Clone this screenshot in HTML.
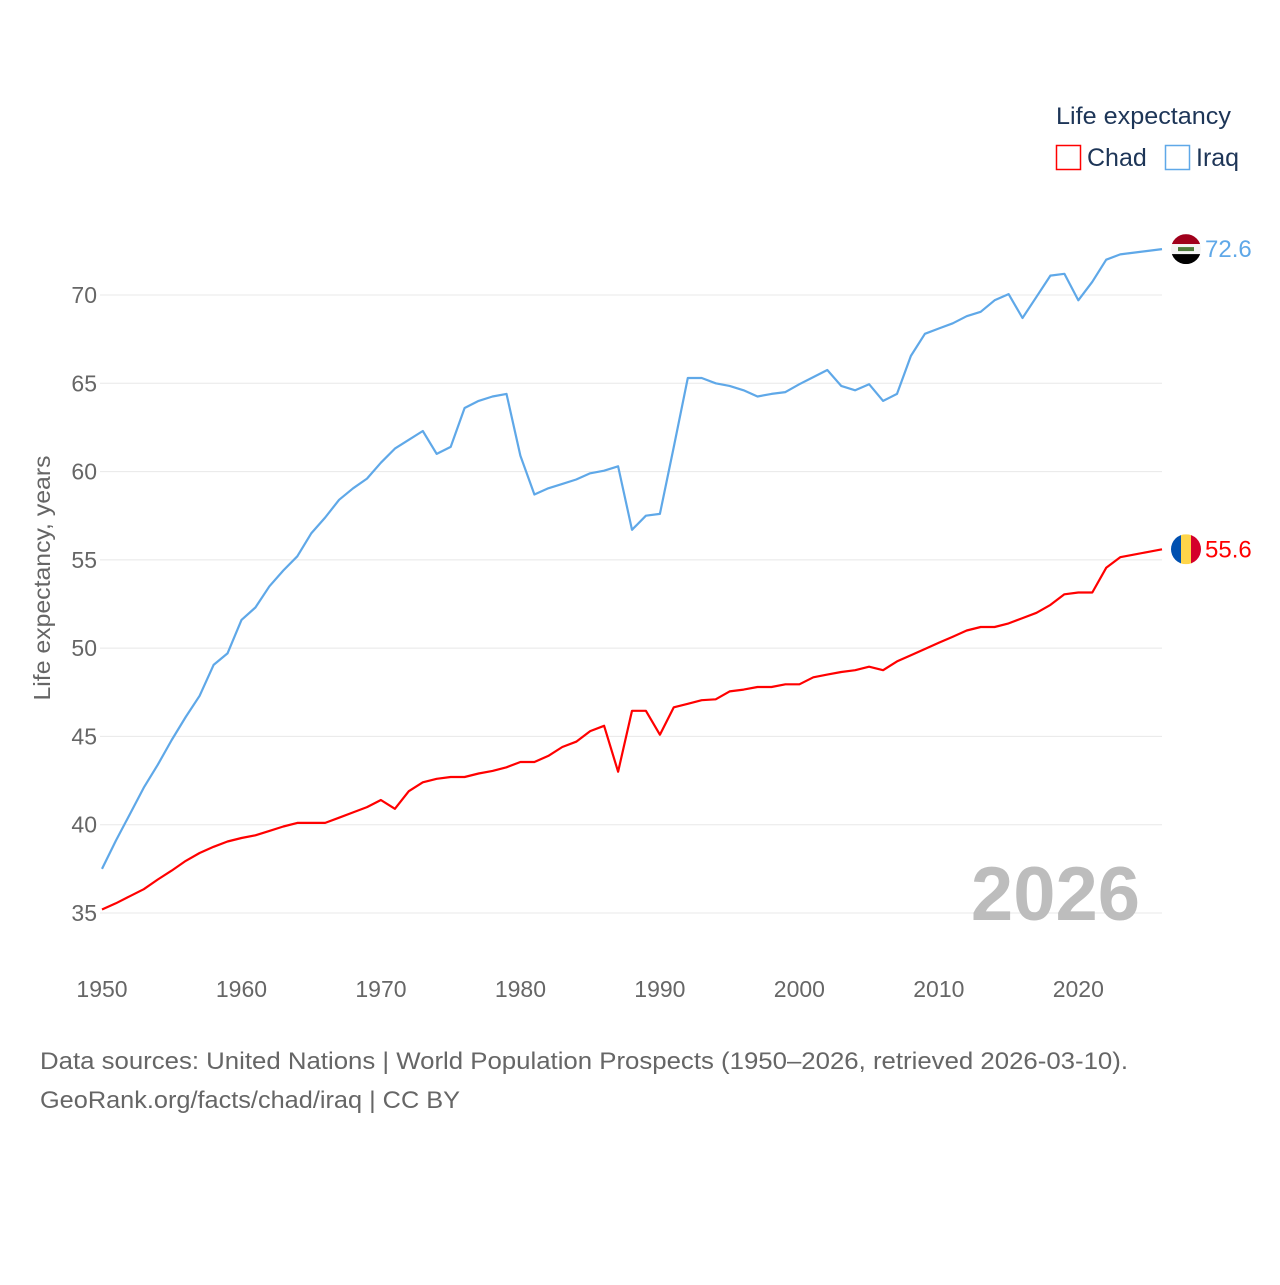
<!DOCTYPE html>
<html><head><meta charset="utf-8">
<style>
html,body{margin:0;padding:0;background:#fff;}
body{width:1280px;height:1280px;overflow:hidden;font-family:"Liberation Sans",sans-serif;}
svg text{font-family:"Liberation Sans",sans-serif;}
</style></head>
<body>
<svg id="chart" width="1280" height="1280" viewBox="0 0 1280 1280" xmlns="http://www.w3.org/2000/svg">
  <g id="grid"></g>
  <g id="yticks"></g>
  <g id="xticks"></g>
  <text transform="translate(50,578) rotate(-90)" text-anchor="middle" font-size="23" fill="#666" textLength="245" lengthAdjust="spacingAndGlyphs">Life expectancy, years</text>
  <text x="1140" y="920" text-anchor="end" font-size="76" font-weight="bold" fill="#bdbdbd">2026</text>
  <g id="series"></g>
  <g>
    <text x="1056" y="124" font-size="24" fill="#1d3557" textLength="175" lengthAdjust="spacingAndGlyphs">Life expectancy</text>
    <rect x="1056.5" y="145.5" width="24" height="24" fill="none" stroke="#ff0000" stroke-width="1.5"/>
    <text x="1087" y="166" font-size="25" fill="#1d3557">Chad</text>
    <rect x="1165.5" y="145.5" width="24" height="24" fill="none" stroke="#5fa8e8" stroke-width="1.5"/>
    <text x="1196" y="166" font-size="25" fill="#1d3557">Iraq</text>
  </g>
  <text x="40" y="1069" font-size="24" fill="#666" textLength="1088" lengthAdjust="spacingAndGlyphs">Data sources: United Nations | World Population Prospects (1950–2026, retrieved 2026-03-10).</text>
  <text x="40" y="1108" font-size="24" fill="#666" textLength="420" lengthAdjust="spacingAndGlyphs">GeoRank.org/facts/chad/iraq | CC BY</text>
</svg>
<script>
const years = [];
for (let y = 1950; y <= 2026; y++) years.push(y);
const yTicks = [35, 40, 45, 50, 55, 60, 65, 70];
const xTicks = [1950, 1960, 1970, 1980, 1990, 2000, 2010, 2020];
const iraq = [37.5,39.1,40.6,42.1,43.4,44.8,46.1,47.3,49.05,49.7,51.6,52.3,53.5,54.4,55.2,56.5,57.4,58.4,59.05,59.6,60.5,61.3,61.8,62.3,61.0,61.4,63.6,64.0,64.25,64.4,60.9,58.7,59.05,59.3,59.55,59.9,60.05,60.3,56.7,57.5,57.6,61.4,65.3,65.3,65.0,64.85,64.6,64.25,64.4,64.5,64.95,65.35,65.75,64.85,64.6,64.95,64.0,64.4,66.55,67.8,68.1,68.4,68.8,69.05,69.7,70.05,68.7,69.9,71.1,71.2,69.7,70.75,72.0,72.3,72.4,72.5,72.6];
const chad = [35.2,35.55,35.95,36.35,36.9,37.4,37.95,38.4,38.75,39.05,39.25,39.4,39.65,39.9,40.1,40.1,40.1,40.4,40.7,41.0,41.4,40.9,41.9,42.4,42.6,42.7,42.7,42.9,43.05,43.25,43.55,43.55,43.9,44.4,44.7,45.3,45.6,43.0,46.45,46.45,45.1,46.65,46.85,47.05,47.1,47.55,47.65,47.8,47.8,47.95,47.95,48.35,48.5,48.65,48.75,48.95,48.75,49.25,49.6,49.95,50.3,50.65,51.0,51.2,51.2,51.4,51.7,52.0,52.45,53.05,53.15,53.15,54.55,55.15,55.3,55.45,55.6];

const NS = "http://www.w3.org/2000/svg";
const x = yr => 102 + (yr - 1950) * (1162 - 102) / 76;
const y = v => 913 - (v - 35) * (913 - 295) / 35;
function mk(tag, attrs, parent) {
  const el = document.createElementNS(NS, tag);
  for (const k in attrs) el.setAttribute(k, attrs[k]);
  parent.appendChild(el);
  return el;
}
const grid = document.getElementById('grid');
const yt = document.getElementById('yticks');
const xt = document.getElementById('xticks');
yTicks.forEach(v => {
  const l = mk('line', {x1: 100, x2: 1162, y1: y(v), y2: y(v), stroke: '#e8e8e8', 'stroke-width': 1}, grid);
  
  
  const t = mk('text', {x: 97, y: y(v) + 8, 'text-anchor': 'end', 'font-size': 23, fill: '#666'}, yt);
  t.textContent = v;
  
  
});
xTicks.forEach(v => {
  const t = mk('text', {x: x(v), y: 997, 'text-anchor': 'middle', 'font-size': 23, fill: '#666'}, xt);
  t.textContent = v;
  
  
});
const sg = document.getElementById('series');
function drawSeries(vals, color, name) {
  const d = vals.map((v, i) => (i ? 'L' : 'M') + x(years[i]).toFixed(1) + ',' + y(v).toFixed(1)).join(' ');
  const p = mk('path', {d: d, fill: 'none', stroke: color, 'stroke-width': 2.2, 'stroke-linejoin': 'round'}, sg);
  
  
  const last = vals[vals.length - 1];
  const cy = y(last);
  const cx = 1186;
  const g = mk('g', {}, sg);
  
  
  const cid = 'clip-' + name;
  const cp = mk('clipPath', {id: cid}, g);
  mk('circle', {cx: cx, cy: cy, r: 15}, cp);
  const fg = mk('g', {'clip-path': 'url(#' + cid + ')'}, g);
  if (name === 'iraq') {
    mk('rect', {x: cx - 15, y: cy - 15, width: 30, height: 10, fill: '#a0001b'}, fg);
    mk('rect', {x: cx - 15, y: cy - 5, width: 30, height: 10, fill: '#f4f4f4'}, fg);
    mk('rect', {x: cx - 15, y: cy + 5, width: 30, height: 10, fill: '#000'}, fg);
    mk('rect', {x: cx - 8, y: cy - 2, width: 16, height: 4, fill: '#4d7a3a'}, fg);
  } else {
    mk('rect', {x: cx - 15, y: cy - 15, width: 10, height: 30, fill: '#0050b0'}, fg);
    mk('rect', {x: cx - 5, y: cy - 15, width: 10, height: 30, fill: '#fed54a'}, fg);
    mk('rect', {x: cx + 5, y: cy - 15, width: 10, height: 30, fill: '#d4002a'}, fg);
  }
  const lbl = mk('text', {x: 1205, y: cy + 8, 'font-size': 24, fill: color}, sg);
  lbl.textContent = last.toFixed(1);
  
  
}
drawSeries(iraq, '#5fa8e8', 'iraq');
drawSeries(chad, '#ff0000', 'chad');
</script>
</body></html>
